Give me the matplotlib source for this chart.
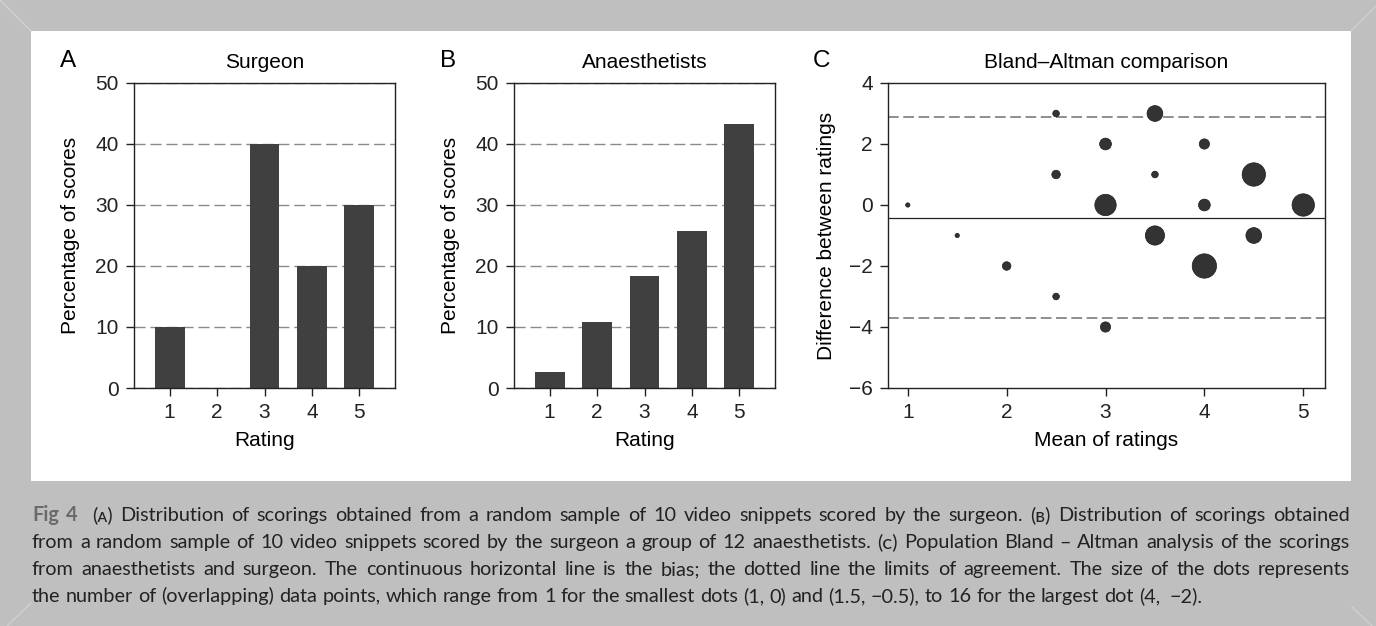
import matplotlib
matplotlib.use("Agg")
import matplotlib.pyplot as plt
from matplotlib.patches import Rectangle

# --- data ---
ratings = [1, 2, 3, 4, 5]
surgeon_pct = [10, 0, 40, 20, 30]
anaes_pct = [2.6, 10.9, 18.3, 25.7, 43.2]

ba_mean = [1, 1.5, 2, 2.5, 2.5, 2.5, 3, 3, 3, 3.5, 3.5, 3.5, 4, 4, 4, 4.5, 4.5, 5]
ba_diff = [0, -1, -2, 3, 1, -3, 2, 0, -4, 3, 1, -1, 2, 0, -2, 1, -1, 0]
ba_count = [1, 1, 3, 2, 3, 2, 5, 13, 4, 8, 2, 11, 4, 5, 16, 15, 8, 14]
bias = -0.41
loa_upper = 2.89
loa_lower = -3.71

caption_lines = [
    "Fig 4  (\u1d00) Distribution of scorings obtained from a random sample of 10 video snippets scored by the surgeon. (\u0299) Distribution of scorings obtained",
    "from a random sample of 10 video snippets scored by the surgeon a group of 12 anaesthetists. (\u1d04) Population Bland \u2013 Altman analysis of the scorings",
    "from anaesthetists and surgeon. The continuous horizontal line is the bias; the dotted line the limits of agreement. The size of the dots represents",
    "the number of (overlapping) data points, which range from 1 for the smallest dots (1, 0) and (1.5, \u22120.5), to 16 for the largest dot (4,  \u22122).",
]

plt.rcParams['font.family'] = ['Liberation Sans', 'DejaVu Sans']
W, H = 1376, 626
fig = plt.figure(figsize=(W / 100, H / 100), dpi=100)

# frame + caption box drawn in pixel coordinates
bg = fig.add_axes([0, 0, 1, 1], zorder=-10)
bg.set_xlim(0, W)
bg.set_ylim(H, 0)
bg.axis('off')
bg.add_patch(Rectangle((0, 0), W, H, fc='#bfbfbf', ec='none'))
bg.add_patch(Rectangle((31, 31), 1320, 450, fc='white', ec='none'))
for xs, ys in [((0, 31), (0, 31)), ((W, 1351), (6, 31)), ((7, 31), (H, 603)), ((1372, 1352), (H, 607))]:
    bg.plot(xs, ys, color='#d4d4d4', lw=0.8)


def px_axes(left, top, right, bottom):
    return fig.add_axes([left / W, 1 - bottom / H, (right - left) / W, (bottom - top) / H])


lab_font = 15
title_font = 15


def style(ax):
    for s in ax.spines.values():
        s.set_linewidth(1.0)
        s.set_color('#222222')
    ax.tick_params(direction='out', length=6, width=1, labelsize=lab_font, pad=5,
                   colors='#222222', top=False, right=False)


axA = px_axes(134, 83, 395, 388)
axB = px_axes(514, 83, 775, 388)
axC = px_axes(888, 83, 1325, 388)

for ax, vals, title, letter in [(axA, surgeon_pct, 'Surgeon', 'A'),
                                (axB, anaes_pct, 'Anaesthetists', 'B')]:
    style(ax)
    ax.bar(ratings, vals, width=0.63, color='#404040', zorder=2)
    ax.set_axisbelow(True)
    ax.grid(axis='y', color='#8a8a8a', linestyle=(0, (8, 3.5)), lw=1)
    ax.set_xlim(0.25, 5.75)
    ax.set_ylim(0, 50)
    ax.set_yticks([0, 10, 20, 30, 40, 50])
    ax.set_xticks(ratings)
    ax.set_title(title, fontsize=title_font, pad=10.5)
    ax.set_xlabel('Rating', fontsize=lab_font)
    ax.set_ylabel('Percentage of scores', fontsize=lab_font)
    ax.xaxis.set_label_coords(0.5, -0.14)
    ax.yaxis.set_label_coords(-54 / 261, 0.5)
    ax.text(-66 / 261, 1.072, letter, transform=ax.transAxes, fontsize=17.5,
            ha='center', va='center')

style(axC)
axC.axhline(bias, color='#222222', lw=0.9, zorder=1)
axC.axhline(loa_upper, color='#707070', lw=1.1, linestyle=(0, (7, 3)), zorder=1)
axC.axhline(loa_lower, color='#707070', lw=1.1, linestyle=(0, (7, 3)), zorder=1)
axC.scatter(ba_mean, ba_diff, s=[9.6 * c ** 1.25 for c in ba_count], color='#333333',
            edgecolor='#1a1a1a', linewidth=0.5, zorder=3)
axC.set_xlim(0.8, 5.22)
axC.set_ylim(-6, 4)
axC.set_xticks(ratings)
axC.set_yticks([-6, -4, -2, 0, 2, 4])
axC.set_title('Bland\u2013Altman comparison', fontsize=title_font, pad=10.5)
axC.set_xlabel('Mean of ratings', fontsize=lab_font)
axC.set_ylabel('Difference between ratings', fontsize=lab_font)
axC.xaxis.set_label_coords(0.5, -0.14)
axC.yaxis.set_label_coords(-52 / 437, 0.5)
axC.text(-67 / 437, 1.072, 'C', transform=axC.transAxes, fontsize=17.5,
         ha='center', va='center')

# --- caption, justified word by word ---
renderer = fig.canvas.get_renderer()
cap_family = ['Lato', 'DejaVu Sans']
cap_left, cap_right = 32, 1350
cap_width = cap_right - cap_left


def natural_width(s, size):
    t = bg.text(0, 0, s, fontsize=size, family=cap_family)
    w = t.get_window_extent(renderer).width
    t.remove()
    return w


cap_size = 15
widest = max(natural_width(l, cap_size) for l in caption_lines)
if widest > cap_width * 0.985:
    cap_size = cap_size * cap_width * 0.985 / widest

for i, line in enumerate(caption_lines):
    y = 521 + i * 27
    words = line.split(' ')
    texts = []
    for j, w in enumerate(words):
        bold = (i == 0 and j < 2)
        t = bg.text(0, y, w, fontsize=cap_size, family=cap_family, va='baseline', ha='left',
                    color='#6a6a6a' if bold else '#222222',
                    weight='bold' if bold else 'normal')
        texts.append(t)
    widths = [t.get_window_extent(renderer).width if t.get_text() else 0 for t in texts]
    if i < len(caption_lines) - 1:
        gap = (cap_width - sum(widths)) / (len(words) - 1)
    else:
        gap = (natural_width(line, cap_size) - sum(widths)) / (len(words) - 1)
    x = cap_left
    for t, wd in zip(texts, widths):
        t.set_x(x)
        x += wd + gap

fig.savefig('out.png', dpi=100)
